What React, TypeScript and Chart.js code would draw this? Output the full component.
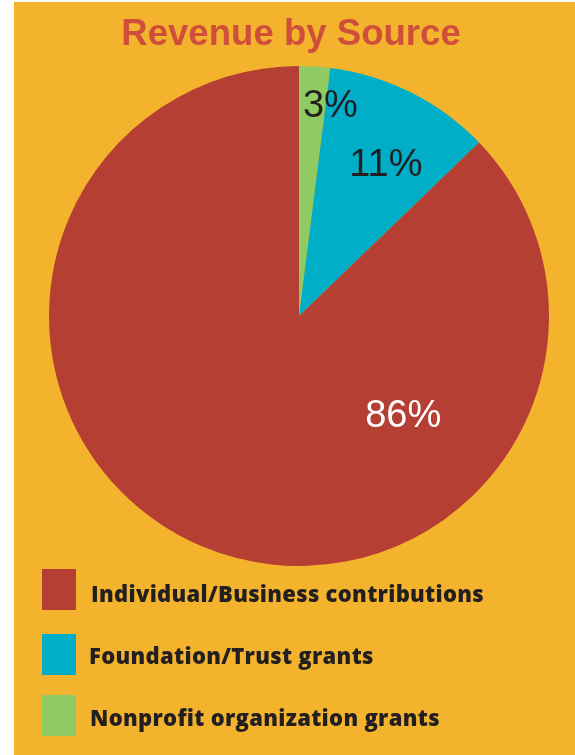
import React, { useEffect, useRef } from "react";
import { Chart, registerables } from "chart.js";

Chart.register(...registerables);

const chartTitle = "Revenue by Source";
const categories = [
  "Individual/Business contributions",
  "Foundation/Trust grants",
  "Nonprofit organization grants",
];
const sliceValues = [87.2, 10.8, 2.0];
const percentLabels = ["86%", "11%", "3%"];
const sliceColors = ["#B43F32", "#00AEC8", "#8FCB62"];
const labelColors = ["#FFFFFF", "#231F20", "#231F20"];

// label placement: t = fraction along the arc (start->end), r = fraction of radius
const labelPlacement = [
  { t: 0.279, r: 0.576 },
  { t: 0.58, r: 0.7 },
  { t: 1.18, r: 0.85 },
];

export default function App() {
  const canvasRef = useRef<HTMLCanvasElement | null>(null);

  useEffect(() => {
    if (!canvasRef.current) return;
    // chart draws clockwise from top: green, teal, red
    const order = [2, 1, 0];
    const labelPlugin = {
      id: "pctLabels",
      afterDatasetsDraw(chart: any) {
        const ctx = chart.ctx;
        const meta = chart.getDatasetMeta(0);
        ctx.save();
        ctx.font = '38px "Liberation Sans", Arial, sans-serif';
        ctx.textAlign = "center";
        ctx.textBaseline = "middle";
        meta.data.forEach((arc: any, i: number) => {
          const src = order[i];
          const p = labelPlacement[src];
          const a = arc.startAngle + (arc.endAngle - arc.startAngle) * p.t;
          const rr = arc.outerRadius * p.r;
          ctx.fillStyle = labelColors[src];
          ctx.fillText(percentLabels[src], arc.x + Math.cos(a) * rr, arc.y + Math.sin(a) * rr + 1);
        });
        ctx.restore();
      },
    };
    const chart = new Chart(canvasRef.current, {
      type: "pie",
      data: {
        labels: order.map((k) => categories[k]),
        datasets: [
          {
            data: order.map((k) => sliceValues[k]),
            backgroundColor: order.map((k) => sliceColors[k]),
            borderWidth: 0,
          },
        ],
      },
      options: {
        responsive: false,
        animation: false,
        layout: { padding: { left: 49, right: 26, top: 66, bottom: 189 } },
        plugins: {
          legend: { display: false },
          title: { display: false },
          tooltip: { enabled: false },
        },
      },
      plugins: [labelPlugin],
    });
    return () => chart.destroy();
  }, []);

  const legendTops = [569, 634, 695];
  const textBaselines = [602, 664, 726];
  const textLefts = [91, 89, 90];

  return (
    <div
      style={{
        position: "fixed",
        left: 0,
        top: 0,
        width: 575,
        height: 755,
        background: "#FFFFFF",
        overflow: "hidden",
      }}
    >
      <div
        style={{
          position: "absolute",
          left: 14,
          top: 2,
          width: 561,
          height: 753,
          background: "#F3B32D",
        }}
      />
      <canvas
        ref={canvasRef}
        width={575}
        height={755}
        style={{ position: "absolute", left: 0, top: 0, width: 575, height: 755 }}
      />
      <div
        style={{
          position: "absolute",
          left: 0,
          width: 582,
          top: 11,
          textAlign: "center",
          fontFamily: '"Liberation Sans", Arial, sans-serif',
          fontWeight: 700,
          fontSize: 36.6,
          lineHeight: "44px",
          color: "#CF4F3B",
          whiteSpace: "nowrap",
        }}
      >
        {chartTitle}
      </div>
      {categories.map((c, i) => (
        <React.Fragment key={c}>
          <div
            style={{
              position: "absolute",
              left: 42,
              top: legendTops[i],
              width: 34,
              height: 41,
              background: sliceColors[i],
            }}
          />
          <div
            style={{
              position: "absolute",
              left: textLefts[i],
              top: textBaselines[i] - 24,
              fontFamily: '"Open Sans", Lato, sans-serif',
              fontWeight: 800,
              fontSize: 22,
              letterSpacing: 0.3,
              lineHeight: "30px",
              color: "#231F20",
              whiteSpace: "nowrap",
            }}
          >
            {c}
          </div>
        </React.Fragment>
      ))}
    </div>
  );
}
